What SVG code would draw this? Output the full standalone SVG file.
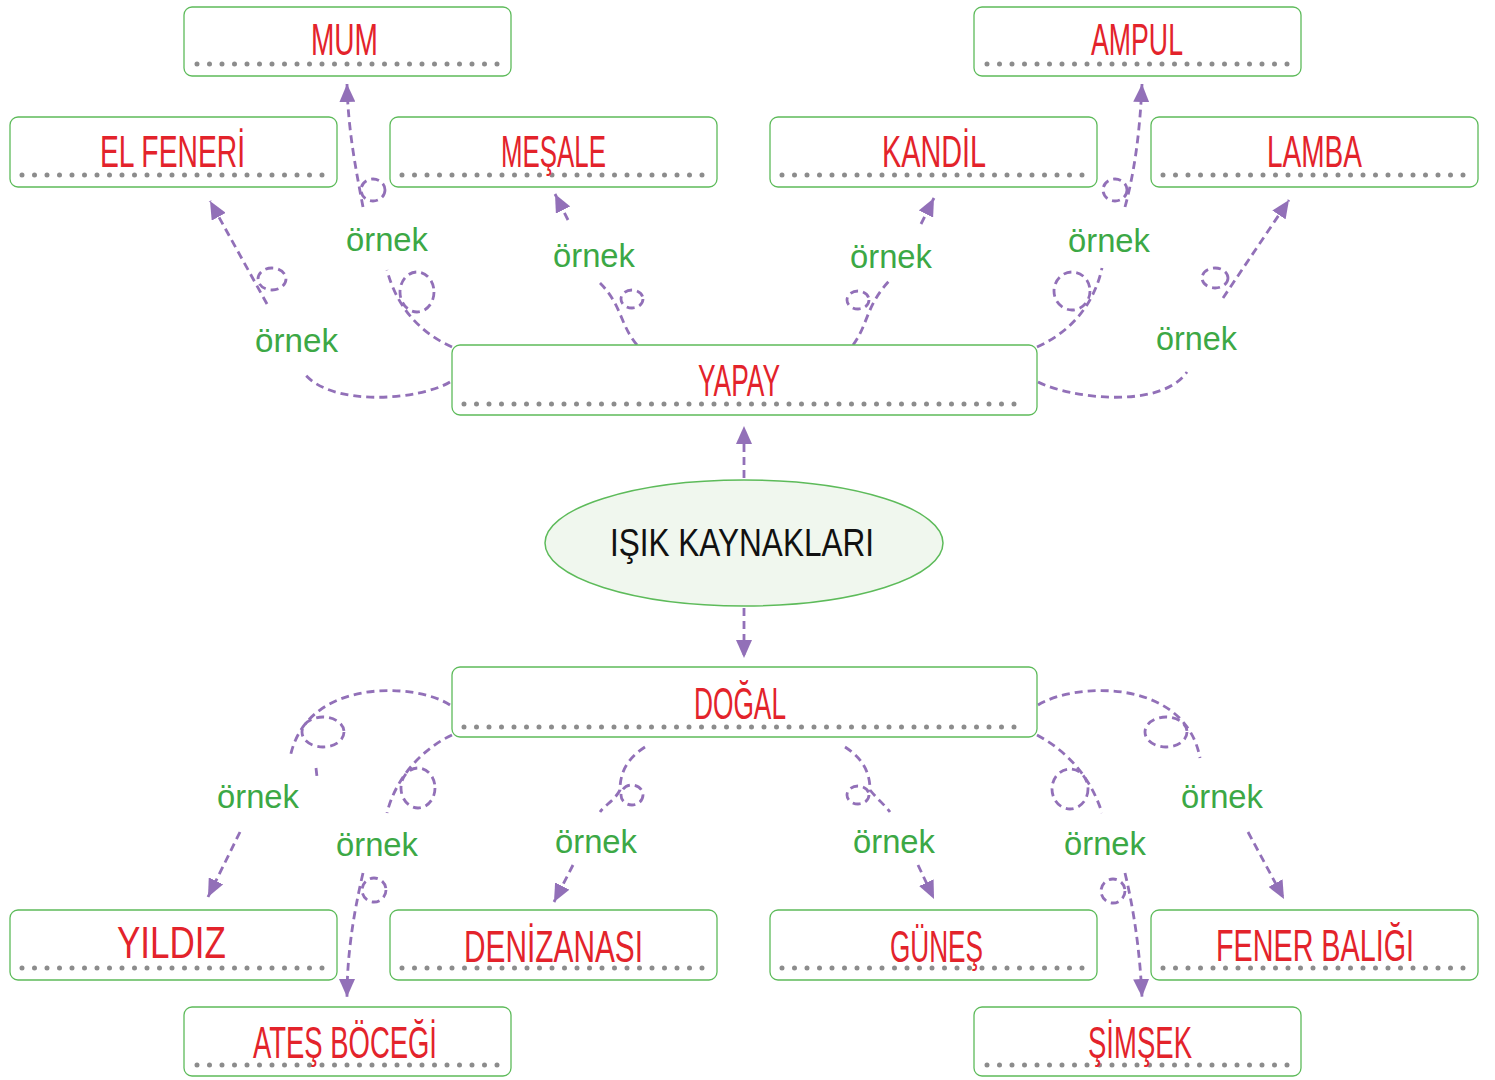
<svg xmlns="http://www.w3.org/2000/svg" width="1495" height="1080" viewBox="0 0 1495 1080">
<defs>
<style>
.box{fill:#ffffff;stroke:#5dbb5a;stroke-width:1.3}
.dots{stroke:#8c8c8c;stroke-width:5;stroke-linecap:round;stroke-dasharray:0 12.5;fill:none}
.lbl{font-family:"Liberation Sans",Arial,sans-serif;font-size:44px;fill:#e3232b;text-anchor:middle}
.ex{font-family:"Liberation Sans",Arial,sans-serif;font-size:34px;fill:#3ca845}
.c{fill:none;stroke:#9270b8;stroke-width:2.8;stroke-dasharray:8 5}
.main{font-family:"Liberation Sans",Arial,sans-serif;font-size:38px;fill:#111111;text-anchor:middle}
</style>
<marker id="ah" markerUnits="userSpaceOnUse" markerWidth="19" markerHeight="16" refX="18" refY="8" orient="auto">
<path d="M0,0 L18,8 L0,16 Z" fill="#9270b8"/>
</marker>
</defs>
<rect width="1495" height="1080" fill="#ffffff"/>

<g id="connectors">
<path class="c" d="M744,478 L744,426" marker-end="url(#ah)"/>
<path class="c" d="M744,608 L744,658" marker-end="url(#ah)"/>
<path class="c" d="M450,382 C420,400 330,408 303,372"/>
<path class="c" d="M267,304 L210,201" marker-end="url(#ah)"/>
<ellipse class="c" cx="272" cy="279" rx="14" ry="11"/>
<path class="c" d="M452,347 C425,335 398,312 387,270"/>
<ellipse class="c" cx="417" cy="292" rx="17" ry="20"/>
<path class="c" d="M363,207 C356,170 348,130 347,84" marker-end="url(#ah)"/>
<ellipse class="c" cx="373" cy="190" rx="12" ry="11"/>
<path class="c" d="M637,345 C620,325 622,305 600,283"/>
<ellipse class="c" cx="632" cy="299" rx="11" ry="9"/>
<path class="c" d="M568,220 L555,194" marker-end="url(#ah)"/>
<path class="c" d="M853,345 C868,325 866,305 890,280"/>
<ellipse class="c" cx="858" cy="300" rx="11" ry="9"/>
<path class="c" d="M921,224 L934,198" marker-end="url(#ah)"/>
<path class="c" d="M1037,347 C1075,330 1095,300 1102,268"/>
<ellipse class="c" cx="1072" cy="291" rx="18" ry="19"/>
<path class="c" d="M1125,207 C1135,170 1140,130 1142,84" marker-end="url(#ah)"/>
<ellipse class="c" cx="1115" cy="190" rx="12" ry="11"/>
<path class="c" d="M1038,382 C1070,398 1160,410 1187,372"/>
<path class="c" d="M1223,298 L1289,200" marker-end="url(#ah)"/>
<ellipse class="c" cx="1215" cy="278" rx="13" ry="10"/>
<path class="c" d="M450,705 C415,682 305,678 290,758"/>
<ellipse class="c" cx="323" cy="732" rx="21" ry="15"/>
<path class="c" d="M316,768 L317,777"/>
<path class="c" d="M240,832 L208,897" marker-end="url(#ah)"/>
<path class="c" d="M452,735 C420,750 395,780 387,813"/>
<ellipse class="c" cx="418" cy="788" rx="17" ry="20"/>
<path class="c" d="M363,873 C352,920 347,960 347,997" marker-end="url(#ah)"/>
<ellipse class="c" cx="374" cy="890" rx="12" ry="12"/>
<path class="c" d="M645,747 C625,760 620,775 620,790 C615,800 605,805 600,812"/>
<ellipse class="c" cx="632" cy="795" rx="11" ry="10"/>
<path class="c" d="M573,865 L554,902" marker-end="url(#ah)"/>
<path class="c" d="M845,747 C865,760 870,775 870,790 C878,800 885,805 890,812"/>
<ellipse class="c" cx="858" cy="795" rx="11" ry="9"/>
<path class="c" d="M918,865 L934,899" marker-end="url(#ah)"/>
<path class="c" d="M1037,735 C1065,750 1090,775 1102,813"/>
<ellipse class="c" cx="1070" cy="789" rx="18" ry="20"/>
<path class="c" d="M1125,873 C1135,915 1140,955 1142,997" marker-end="url(#ah)"/>
<ellipse class="c" cx="1113" cy="891" rx="12" ry="12"/>
<path class="c" d="M1038,705 C1075,682 1185,678 1200,758"/>
<ellipse class="c" cx="1166" cy="732" rx="21" ry="15"/>
<path class="c" d="M1248,832 L1284,899" marker-end="url(#ah)"/>
</g>

<g id="labels">
<text class="ex" x="255" y="352" textLength="83" lengthAdjust="spacingAndGlyphs">örnek</text>
<text class="ex" x="346" y="251" textLength="82" lengthAdjust="spacingAndGlyphs">örnek</text>
<text class="ex" x="553" y="267" textLength="82" lengthAdjust="spacingAndGlyphs">örnek</text>
<text class="ex" x="850" y="268" textLength="82" lengthAdjust="spacingAndGlyphs">örnek</text>
<text class="ex" x="1068" y="252" textLength="82" lengthAdjust="spacingAndGlyphs">örnek</text>
<text class="ex" x="1156" y="350" textLength="81" lengthAdjust="spacingAndGlyphs">örnek</text>
<text class="ex" x="217" y="808" textLength="82" lengthAdjust="spacingAndGlyphs">örnek</text>
<text class="ex" x="336" y="856" textLength="82" lengthAdjust="spacingAndGlyphs">örnek</text>
<text class="ex" x="555" y="853" textLength="82" lengthAdjust="spacingAndGlyphs">örnek</text>
<text class="ex" x="853" y="853" textLength="82" lengthAdjust="spacingAndGlyphs">örnek</text>
<text class="ex" x="1064" y="855" textLength="82" lengthAdjust="spacingAndGlyphs">örnek</text>
<text class="ex" x="1181" y="808" textLength="82" lengthAdjust="spacingAndGlyphs">örnek</text>
</g>

<g id="isik-kaynaklari">
<ellipse cx="744" cy="543" rx="199" ry="63" fill="#f0f7ee" stroke="#5dbb5a" stroke-width="1.5"/>
<text class="main" x="742" y="556" textLength="264" lengthAdjust="spacingAndGlyphs">IŞIK KAYNAKLARI</text>
</g>

<g id="mum"><rect class="box" x="184" y="7" width="327" height="69" rx="8"/><line class="dots" x1="197" y1="64" x2="499" y2="64"/><text class="lbl" x="344.5" y="55" textLength="67" lengthAdjust="spacingAndGlyphs">MUM</text></g>
<g id="ampul"><rect class="box" x="974" y="7" width="327" height="69" rx="8"/><line class="dots" x1="987" y1="64" x2="1289" y2="64"/><text class="lbl" x="1137" y="55" textLength="92" lengthAdjust="spacingAndGlyphs">AMPUL</text></g>

<g id="el-feneri"><rect class="box" x="10" y="117" width="327" height="70" rx="8"/><line class="dots" x1="22" y1="175" x2="325" y2="175"/><text class="lbl" x="172.5" y="167" textLength="145" lengthAdjust="spacingAndGlyphs">EL FENERİ</text></g>
<g id="mesale"><rect class="box" x="390" y="117" width="327" height="70" rx="8"/><line class="dots" x1="402" y1="175" x2="705" y2="175"/><text class="lbl" x="553.5" y="167" textLength="105" lengthAdjust="spacingAndGlyphs">MEŞALE</text></g>
<g id="kandil"><rect class="box" x="770" y="117" width="327" height="70" rx="8"/><line class="dots" x1="782" y1="175" x2="1085" y2="175"/><text class="lbl" x="934" y="167" textLength="104" lengthAdjust="spacingAndGlyphs">KANDİL</text></g>
<g id="lamba"><rect class="box" x="1151" y="117" width="327" height="70" rx="8"/><line class="dots" x1="1163" y1="175" x2="1466" y2="175"/><text class="lbl" x="1314.5" y="167" textLength="95" lengthAdjust="spacingAndGlyphs">LAMBA</text></g>

<g id="yapay"><rect class="box" x="452" y="345" width="585" height="70" rx="8"/><line class="dots" x1="464" y1="404" x2="1026" y2="404"/><text class="lbl" x="739" y="396" textLength="82" lengthAdjust="spacingAndGlyphs">YAPAY</text></g>
<g id="dogal"><rect class="box" x="452" y="667" width="585" height="70" rx="8"/><line class="dots" x1="464" y1="727" x2="1026" y2="727"/><text class="lbl" x="740" y="719" textLength="92" lengthAdjust="spacingAndGlyphs">DOĞAL</text></g>

<g id="yildiz"><rect class="box" x="10" y="910" width="327" height="70" rx="8"/><line class="dots" x1="22" y1="968" x2="325" y2="968"/><text class="lbl" x="171.5" y="958" textLength="109" lengthAdjust="spacingAndGlyphs">YILDIZ</text></g>
<g id="denizanasi"><rect class="box" x="390" y="910" width="327" height="70" rx="8"/><line class="dots" x1="402" y1="968" x2="705" y2="968"/><text class="lbl" x="553.5" y="962" textLength="179" lengthAdjust="spacingAndGlyphs">DENİZANASI</text></g>
<g id="gunes"><rect class="box" x="770" y="910" width="327" height="70" rx="8"/><line class="dots" x1="782" y1="968" x2="1085" y2="968"/><text class="lbl" x="936.5" y="962" textLength="93" lengthAdjust="spacingAndGlyphs">GÜNEŞ</text></g>
<g id="fener-baligi"><rect class="box" x="1151" y="910" width="327" height="70" rx="8"/><line class="dots" x1="1163" y1="968" x2="1466" y2="968"/><text class="lbl" x="1315" y="961" font-size="42" textLength="198" lengthAdjust="spacingAndGlyphs">FENER BALIĞI</text></g>

<g id="ates-bocegi"><rect class="box" x="184" y="1007" width="327" height="69" rx="8"/><line class="dots" x1="197" y1="1065" x2="499" y2="1065"/><text class="lbl" x="345" y="1058" textLength="184" lengthAdjust="spacingAndGlyphs">ATEŞ BÖCEĞİ</text></g>
<g id="simsek"><rect class="box" x="974" y="1007" width="327" height="69" rx="8"/><line class="dots" x1="987" y1="1065" x2="1289" y2="1065"/><text class="lbl" x="1140" y="1058" textLength="104" lengthAdjust="spacingAndGlyphs">ŞİMŞEK</text></g>
</svg>
